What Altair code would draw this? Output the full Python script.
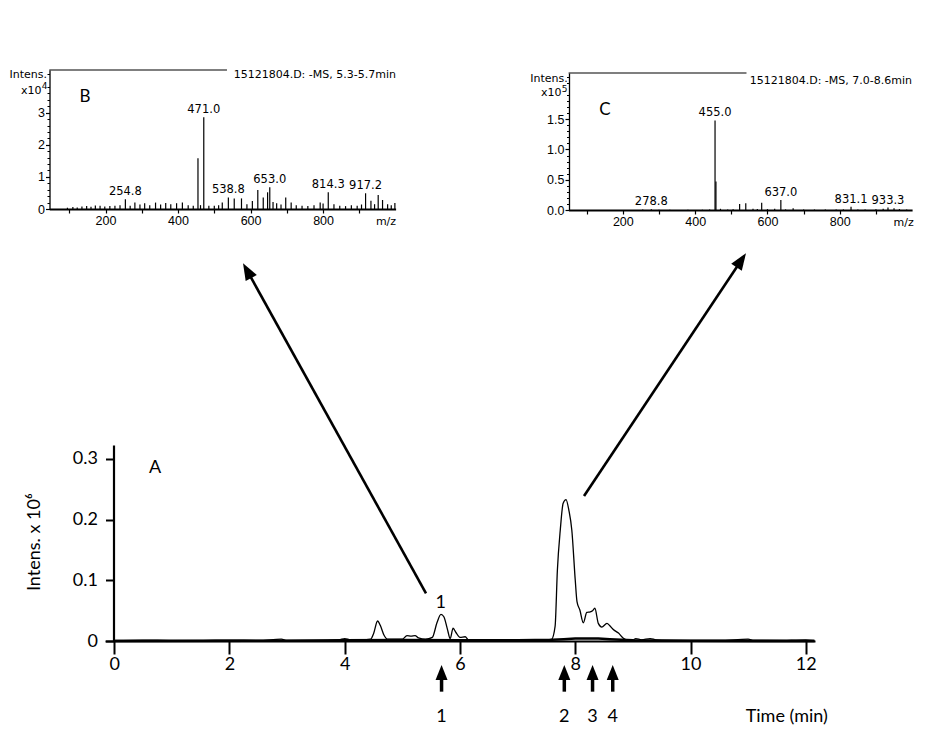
import altair as alt
import pandas as pd

W, H = 925, 747

# ---------------- data ----------------
# Panel A: chromatogram (time in min, intensity x 10^6)
a_time = [0.0, 0.5, 1.0, 1.5, 2.0, 2.5, 2.9, 3.0, 3.5, 3.9, 4.0, 4.1, 4.3, 4.45, 4.5, 4.57, 4.62,
          4.68, 4.75, 4.85, 5.0, 5.08, 5.15, 5.22, 5.28, 5.4, 5.52, 5.6, 5.67, 5.72, 5.78, 5.83,
          5.88, 5.93, 6.0, 6.09, 6.15, 6.3, 6.5, 7.0, 7.5, 7.59, 7.65, 7.69, 7.74, 7.79, 7.84,
          7.89, 7.94, 8.0, 8.03, 8.08, 8.14, 8.2, 8.26, 8.3, 8.34, 8.4, 8.46, 8.55, 8.6, 8.66,
          8.75, 8.83, 8.89, 9.0, 9.05, 9.15, 9.3, 9.4, 9.6, 10.0, 10.5, 11.0, 11.1, 11.5, 12.0, 12.15]
a_intensity = [0.001, 0.0015, 0.001, 0.001, 0.0015, 0.001, 0.003, 0.001, 0.001, 0.002, 0.004, 0.002,
               0.002, 0.003, 0.012, 0.033, 0.025, 0.01, 0.003, 0.003, 0.003, 0.009, 0.008, 0.009,
               0.005, 0.003, 0.006, 0.03, 0.044, 0.04, 0.02, 0.004, 0.021, 0.014, 0.006, 0.007,
               0.002, 0.002, 0.002, 0.001, 0.002, 0.003, 0.024, 0.117, 0.183, 0.227, 0.233, 0.215,
               0.183, 0.10, 0.065, 0.051, 0.030, 0.047, 0.048, 0.050, 0.054, 0.029, 0.023, 0.029,
               0.025, 0.019, 0.013, 0.005, 0.002, 0.002, 0.004, 0.002, 0.004, 0.002, 0.001, 0.001,
               0.001, 0.003, 0.001, 0.001, 0.002, 0.001]
a_base_time = [0.0, 3.0, 4.0, 5.0, 6.0, 7.0, 7.6, 7.8, 8.0, 8.2, 8.4, 8.6, 8.8, 9.0, 10.0, 12.15]
a_base_intensity = [0.0, 0.0005, 0.001, 0.0015, 0.001, 0.001, 0.002, 0.003, 0.004, 0.004, 0.004,
                    0.003, 0.002, 0.001, 0.0005, 0.0]
marker_times = [5.68, 7.81, 8.30, 8.65]
marker_labels = ["1", "2", "3", "4"]

# Panel B: MS spectrum 5.3-5.7 min (intensity x 10^4)
b_mz = [95, 110, 122, 135, 148, 160, 172, 185, 198, 212, 226, 240, 254.8, 268, 281, 295, 308, 322,
        338, 352, 366, 380, 396, 412, 428, 442, 455.0, 462, 471.0, 485, 500, 512, 522, 538.8, 555,
        575, 590, 605, 620, 635, 647, 653.0, 662, 672, 684, 697, 712, 726, 742, 758, 775, 792, 800,
        814.3, 830, 846, 862, 878, 894, 906, 917.2, 932, 942, 952, 964, 978, 988, 998]
b_int = [0.04, 0.06, 0.05, 0.08, 0.09, 0.07, 0.11, 0.10, 0.08, 0.09, 0.10, 0.12, 0.30, 0.10, 0.20,
         0.14, 0.18, 0.12, 0.20, 0.14, 0.19, 0.15, 0.18, 0.20, 0.12, 0.10, 1.58, 0.12, 2.86, 0.10,
         0.10, 0.12, 0.20, 0.36, 0.33, 0.33, 0.15, 0.25, 0.59, 0.36, 0.52, 0.68, 0.22, 0.18, 0.14,
         0.36, 0.20, 0.12, 0.10, 0.09, 0.12, 0.20, 0.17, 0.52, 0.15, 0.10, 0.09, 0.12, 0.10, 0.14,
         0.49, 0.26, 0.15, 0.44, 0.28, 0.15, 0.12, 0.19]
b_label_mz = [254.8, 471.0, 538.8, 653.0, 814.3, 917.2]
b_label_int = [0.30, 2.86, 0.36, 0.68, 0.52, 0.49]

# Panel C: MS spectrum 7.0-8.6 min (intensity x 10^5)
c_mz = [255, 278.8, 300, 330, 380, 420, 440, 455.0, 457.5, 470, 490, 505, 523, 540, 560, 572, 584,
        600, 620, 637.0, 650, 671, 700, 730, 760, 790, 810, 831.1, 850, 870, 900, 920, 933.3, 950,
        965, 985]
c_int = [0.008, 0.012, 0.005, 0.004, 0.005, 0.006, 0.010, 1.48, 0.47, 0.020, 0.010, 0.012, 0.10,
         0.11, 0.020, 0.015, 0.12, 0.015, 0.020, 0.165, 0.010, 0.030, 0.010, 0.008, 0.010, 0.008,
         0.010, 0.055, 0.010, 0.008, 0.012, 0.020, 0.040, 0.030, 0.015, 0.010]
c_label_mz = [278.8, 455.0, 637.0, 831.1, 933.3]
c_label_int = [0.012, 1.48, 0.165, 0.055, 0.040]

# ---------------- frames ----------------
a_main = pd.DataFrame({"t": a_time, "v": a_intensity})
a_base = pd.DataFrame({"t": a_base_time, "v": a_base_intensity})
b_df = pd.DataFrame({"mz": b_mz, "v": b_int, "z": [0] * len(b_mz)})
b_lab = pd.DataFrame({"mz": b_label_mz, "v": b_label_int,
                      "txt": [f"{m:.1f}" for m in b_label_mz]})
c_df = pd.DataFrame({"mz": c_mz, "v": c_int, "z": [0] * len(c_mz)})
c_lab = pd.DataFrame({"mz": c_label_mz, "v": c_label_int,
                      "txt": [f"{m:.1f}" for m in c_label_mz]})

# ---------------- scales ----------------
AX = alt.Scale(domain=[-0.16, 12.16], range=[105, 815], nice=False, zero=False)
AY = alt.Scale(domain=[0, 0.323], range=[641, 445], nice=False, zero=False)
BX = alt.Scale(domain=[45, 1000], range=[49.3, 395.6], nice=False, zero=False)
BY = alt.Scale(domain=[0, 4.33], range=[209, 70], nice=False, zero=False)
CX = alt.Scale(domain=[50, 1000], range=[568.6, 912.1], nice=False, zero=False)
CY = alt.Scale(domain=[0, 2.264], range=[210, 73], nice=False, zero=False)

CAL = "Lato"
ARIAL = "Liberation Sans"
DJV = "DejaVu Sans"

common_axis = dict(grid=False, title=None, domainColor="black", tickColor="black",
                   labelColor="black", labelFlush=False, labelOverlap=False, labelBound=False)

axA_x = alt.Axis(values=[0, 2, 4, 6, 8, 10, 12], orient="bottom", offset=641 - H, tickSize=13,
                 tickWidth=2, domainWidth=2.2, labelFont=CAL, labelFontSize=18, labelPadding=1,
                 format="d", **common_axis)
axA_y = alt.Axis(values=[0, 0.1, 0.2, 0.3], orient="left", offset=-113.5, tickSize=8,
                 tickWidth=2, domainWidth=2.2, labelFont=CAL, labelFontSize=18, labelPadding=8,
                 labelExpr="datum.value == 0 ? '0' : format(datum.value, '.1f')", **common_axis)

axB_x = alt.Axis(values=[100, 200, 300, 400, 500, 600, 700, 800, 900], orient="bottom",
                 offset=209 - H, tickSize=4, tickWidth=1.2, domainWidth=1.8, labelFont=ARIAL,
                 labelFontSize=12.5, labelPadding=1,
                 labelExpr="datum.value % 200 == 0 ? datum.label : ''", **common_axis)
axB_y = alt.Axis(values=[0, 1, 2, 3], orient="left", offset=-49.5, tickSize=4, tickWidth=1.2,
                 domainWidth=1.3, labelFont=ARIAL, labelFontSize=12.5, labelPadding=1,
                 format="d", **common_axis)
axB_minor = alt.Axis(values=[round(0.2 * i, 1) for i in range(1, 22) if i % 5 != 0],
                     orient="left", offset=-49.5, tickSize=2.5, tickWidth=1, domain=False,
                     labels=False, **common_axis)

axC_x = alt.Axis(values=[100, 200, 300, 400, 500, 600, 700, 800, 900], orient="bottom",
                 offset=210 - H, tickSize=4, tickWidth=1.2, domainWidth=1.8, labelFont=ARIAL,
                 labelFontSize=12.5, labelPadding=1,
                 labelExpr="datum.value % 200 == 0 ? datum.label : ''", **common_axis)
axC_y = alt.Axis(values=[0, 0.5, 1.0, 1.5], orient="left", offset=-569, tickSize=4, tickWidth=1.2,
                 domainWidth=1.3, labelFont=ARIAL, labelFontSize=12.5, labelPadding=1,
                 format=".1f", **common_axis)
axC_minor = alt.Axis(values=[round(0.1 * i, 1) for i in range(1, 23) if i % 5 != 0],
                     orient="left", offset=-569, tickSize=2.5, tickWidth=1, domain=False,
                     labels=False, **common_axis)


def txt(df, xs, ys, **kw):
    return alt.Chart(df).mark_text(color="black", **kw).encode(
        x=alt.X("x:Q", scale=xs, axis=None), y=alt.Y("y:Q", scale=ys, axis=None),
        text="s:N")


def axis_layer(df, xf, yf, xs, ys, xa, ya):
    x = alt.X(xf, scale=xs, axis=xa) if xa is not None else alt.X(xf, scale=xs, axis=None)
    y = alt.Y(yf, scale=ys, axis=ya) if ya is not None else alt.Y(yf, scale=ys, axis=None)
    return alt.Chart(df).mark_point(opacity=0).encode(x=x, y=y)


# ---------------- panel A ----------------
lineA = alt.Chart(a_main).mark_line(color="black", strokeWidth=1.3, interpolate="monotone").encode(
    x=alt.X("t:Q", scale=AX, axis=None), y=alt.Y("v:Q", scale=AY, axis=None))
baseA = alt.Chart(a_base).mark_line(color="black", strokeWidth=2.6).encode(
    x=alt.X("t:Q", scale=AX, axis=None), y=alt.Y("v:Q", scale=AY, axis=None))

big_arrows = pd.DataFrame({"x0": [5.41, 8.152], "y0": [0.0786, 0.239],
                           "x1": [2.319, 10.867], "y1": [0.6083, 0.6255],
                           "tx": [2.235, 10.963], "ty": [0.6227, 0.6392], "ang": [331, 34]})
shafts = alt.Chart(big_arrows).mark_rule(color="black", strokeWidth=2.6).encode(
    x=alt.X("x0:Q", scale=AX, axis=None), y=alt.Y("y0:Q", scale=AY, axis=None),
    x2="x1:Q", y2="y1:Q")
heads = alt.Chart(big_arrows).mark_point(
    shape="M0,0 L-0.375,1 L0.375,1 Z", filled=True, color="black", opacity=1, size=1156,
    strokeWidth=0).encode(
    x=alt.X("tx:Q", scale=AX, axis=None), y=alt.Y("ty:Q", scale=AY, axis=None),
    angle=alt.Angle("ang:Q", scale=None))

markers = pd.DataFrame({"t": marker_times, "lab": marker_labels,
                        "yb": [-0.0835] * 4, "yt": [-0.052] * 4, "yh": [-0.0395] * 4,
                        "yl": [-0.1257] * 4})
m_shafts = alt.Chart(markers).mark_rule(color="black", strokeWidth=3.5).encode(
    x=alt.X("t:Q", scale=AX, axis=None), y=alt.Y("yb:Q", scale=AY, axis=None), y2="yt:Q")
m_heads = alt.Chart(markers).mark_point(
    shape="M0,0 L-0.4,1 L0.4,1 Z", filled=True, color="black", opacity=1, size=900,
    strokeWidth=0).encode(
    x=alt.X("t:Q", scale=AX, axis=None), y=alt.Y("yh:Q", scale=AY, axis=None))
m_labels = alt.Chart(markers).mark_text(font=CAL, fontSize=18, color="black").encode(
    x=alt.X("t:Q", scale=AX, axis=None), y=alt.Y("yl:Q", scale=AY, axis=None), text="lab:N")

textA = txt(pd.DataFrame({"x": [0.708, 11.67, 5.665], "y": [0.285, -0.125, 0.062],
                          "s": ["A", "Time (min)", "1"]}), AX, AY, font=CAL, fontSize=18)
ytitleA = txt(pd.DataFrame({"x": [-1.374], "y": [0.163], "s": ["Intens. x 10⁶"]}), AX, AY,
              font=CAL, fontSize=18, angle=270)

panelA = alt.layer(lineA, baseA, shafts, heads, m_shafts, m_heads, m_labels, textA, ytitleA)
axesA = axis_layer(a_main, "t:Q", "v:Q", AX, AY, axA_x, axA_y)

# ---------------- panel B ----------------
sticksB = alt.Chart(b_df).mark_rule(color="black", strokeWidth=1.2).encode(
    x=alt.X("mz:Q", scale=BX, axis=None), y=alt.Y("z:Q", scale=BY, axis=None), y2="v:Q")
labB = alt.Chart(b_lab).mark_text(font=DJV, fontSize=11.5, color="black", baseline="bottom",
                                  dy=-2).encode(
    x=alt.X("mz:Q", scale=BX, axis=None), y=alt.Y("v:Q", scale=BY, axis=None), text="txt:N")
frameB = alt.Chart(pd.DataFrame({"a": [45], "b": [535], "y": [4.33]})).mark_rule(
    color="black", strokeWidth=1.2).encode(
    x=alt.X("a:Q", scale=BX, axis=None), x2="b:Q", y=alt.Y("y:Q", scale=BY, axis=None))
titleB = txt(pd.DataFrame({"x": [1001], "y": [4.17], "s": ["15121804.D: -MS, 5.3-5.7min"]}),
             BX, BY, font=DJV, fontSize=11, align="right")
unitB = txt(pd.DataFrame({"x": [38.6, 23.4], "y": [4.17, 3.69], "s": ["Intens.", "x10"]}),
            BX, BY, font=DJV, fontSize=11, align="right")
expB = txt(pd.DataFrame({"x": [24.0], "y": [3.83], "s": ["4"]}), BX, BY, font=DJV,
           fontSize=9, align="left")
mzB = txt(pd.DataFrame({"x": [973.5], "y": [-0.40], "s": ["m/z"]}), BX, BY, font=DJV,
          fontSize=11)
letterB = txt(pd.DataFrame({"x": [143.4], "y": [3.50], "s": ["B"]}), BX, BY, font=CAL,
              fontSize=17)
panelB = alt.layer(sticksB, labB, frameB, titleB, unitB, expB, mzB, letterB)
axesB = axis_layer(b_df, "mz:Q", "v:Q", BX, BY, axB_x, axB_y)
minorB = axis_layer(b_df, "mz:Q", "v:Q", BX, BY, None, axB_minor)

# ---------------- panel C ----------------
sticksC = alt.Chart(c_df).mark_rule(color="black", strokeWidth=1.2).encode(
    x=alt.X("mz:Q", scale=CX, axis=None), y=alt.Y("z:Q", scale=CY, axis=None), y2="v:Q")
labC = alt.Chart(c_lab).mark_text(font=DJV, fontSize=11.5, color="black", baseline="bottom",
                                  dy=-2).encode(
    x=alt.X("mz:Q", scale=CX, axis=None), y=alt.Y("v:Q", scale=CY, axis=None), text="txt:N")
frameC = alt.Chart(pd.DataFrame({"a": [50], "b": [542], "y": [2.264]})).mark_rule(
    color="black", strokeWidth=1.2).encode(
    x=alt.X("a:Q", scale=CX, axis=None), x2="b:Q", y=alt.Y("y:Q", scale=CY, axis=None))
titleC = txt(pd.DataFrame({"x": [999.7], "y": [2.137], "s": ["15121804.D: -MS, 7.0-8.6min"]}),
             CX, CY, font=DJV, fontSize=11, align="right")
unitC = txt(pd.DataFrame({"x": [47.6, 30.4], "y": [2.167, 1.930], "s": ["Intens.", "x10"]}),
            CX, CY, font=DJV, fontSize=11, align="right")
expC = txt(pd.DataFrame({"x": [31.0], "y": [1.995], "s": ["5"]}), CX, CY, font=DJV,
           fontSize=9, align="left")
mzC = txt(pd.DataFrame({"x": [976.8], "y": [-0.21], "s": ["m/z"]}), CX, CY, font=DJV,
          fontSize=11)
letterC = txt(pd.DataFrame({"x": [150.7], "y": [1.653], "s": ["C"]}), CX, CY, font=CAL,
              fontSize=17)
panelC = alt.layer(sticksC, labC, frameC, titleC, unitC, expC, mzC, letterC)
axesC = axis_layer(c_df, "mz:Q", "v:Q", CX, CY, axC_x, axC_y)
minorC = axis_layer(c_df, "mz:Q", "v:Q", CX, CY, None, axC_minor)

chart = alt.layer(panelA, axesA, panelB, axesB, minorB, panelC, axesC, minorC).resolve_scale(
    x="independent", y="independent").resolve_axis(x="independent", y="independent").properties(
    width=W, height=H, autosize=alt.AutoSizeParams(type="none"), padding=0,
    background="white").configure_view(stroke=None)

chart.save("out.html", embed_options={"renderer": "svg", "actions": False})
